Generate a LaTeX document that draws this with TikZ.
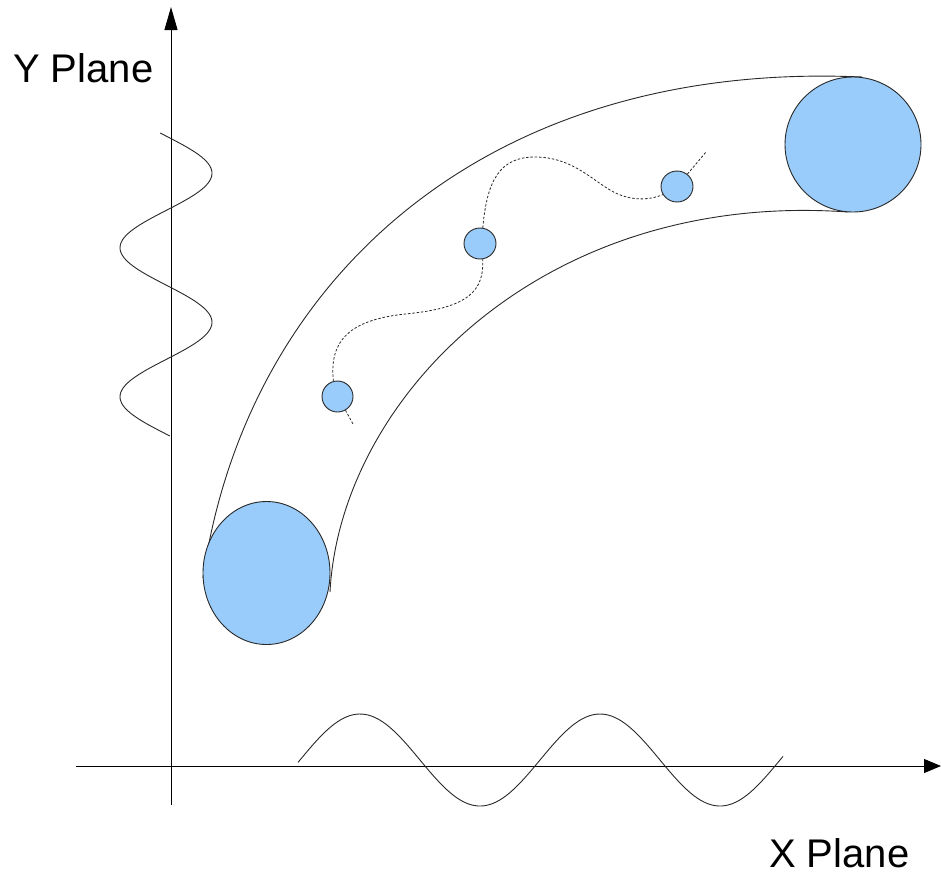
\documentclass[tikz,border=0pt]{standalone}
\usepackage{fontspec}
\setmainfont{Liberation Sans}
\usetikzlibrary{arrows.meta,shapes.geometric}
\definecolor{ballfill}{RGB}{153,204,250}
\definecolor{linecol}{RGB}{40,40,40}
\tikzset{
  axisline/.style={draw=black, line width=1pt},
  tubeline/.style={draw=linecol, line width=0.9pt},
  waveline/.style={draw=linecol, line width=0.9pt},
  ball/.style={ellipse, draw=linecol, line width=0.9pt, fill=ballfill, inner sep=0pt},
  trail/.style={draw=linecol, line width=0.8pt, dash pattern=on 2.5pt off 1.8pt},
  label/.style={font=\fontsize{40}{48}\selectfont, inner sep=0pt, anchor=base west}
}
\begin{document}
\begin{tikzpicture}[x=1pt,y=-1pt]
\useasboundingbox (0,0) rectangle (941,873);
% axes
\coordinate (yb) at (171,805);
\coordinate (yt) at (171,7);
\coordinate (xl) at (76,766);
\coordinate (xr) at (941,766);
\draw[axisline, -{Triangle[length=23pt,width=13pt]}] (yb) -- (yt);
\draw[axisline, -{Triangle[length=17pt,width=14pt]}] (xl) -- (xr);
% labels
\node[label] (ylab) at (13,82) {Y Plane};
\node[label] (xlab) at (769,867) {X Plane};
% waves
\draw[waveline] plot[domain=298:783, samples=160, smooth] (\x, {760 - 46*sin(1.5*(\x-300))});
\draw[waveline] plot[domain=133:436, samples=140, smooth] ({166 + 46*sin(2.416*(\x-136))}, \x);
% tube
\draw[tubeline] (203,578) .. controls (245,285) and (480,60) .. (862,77);
\draw[tubeline] (330,592) .. controls (340,400) and (540,190) .. (848,212);
% balls
\node[ball, minimum width=127pt, minimum height=143pt] (b1) at (266.5,573) {};
\node[ball, minimum width=136pt, minimum height=135pt] (b2) at (853,144.5) {};
\node[ball, minimum width=31pt, minimum height=31pt] (s1) at (337.5,396.5) {};
\node[ball, minimum width=32pt, minimum height=31pt] (s2) at (480,243.5) {};
\node[ball, minimum width=32pt, minimum height=31pt] (s3) at (677,186.5) {};
% trail
\coordinate (t0) at (353,424);
\coordinate (t4) at (706,152);
\draw[trail] (s1.-60) -- (t0);
\draw[trail] (s1.105) .. controls (329,340) and (350,320) .. (405,314) .. controls (470,308) and (484,290) .. (s2.-80);
\draw[trail] (s2.80) .. controls (487,180) and (500,157) .. (535,157) .. controls (570,157) and (590,178) .. (610,190) .. controls (630,202) and (650,200) .. (s3.-150);
\draw[trail] (s3.50) -- (t4);
\end{tikzpicture}
\end{document}
